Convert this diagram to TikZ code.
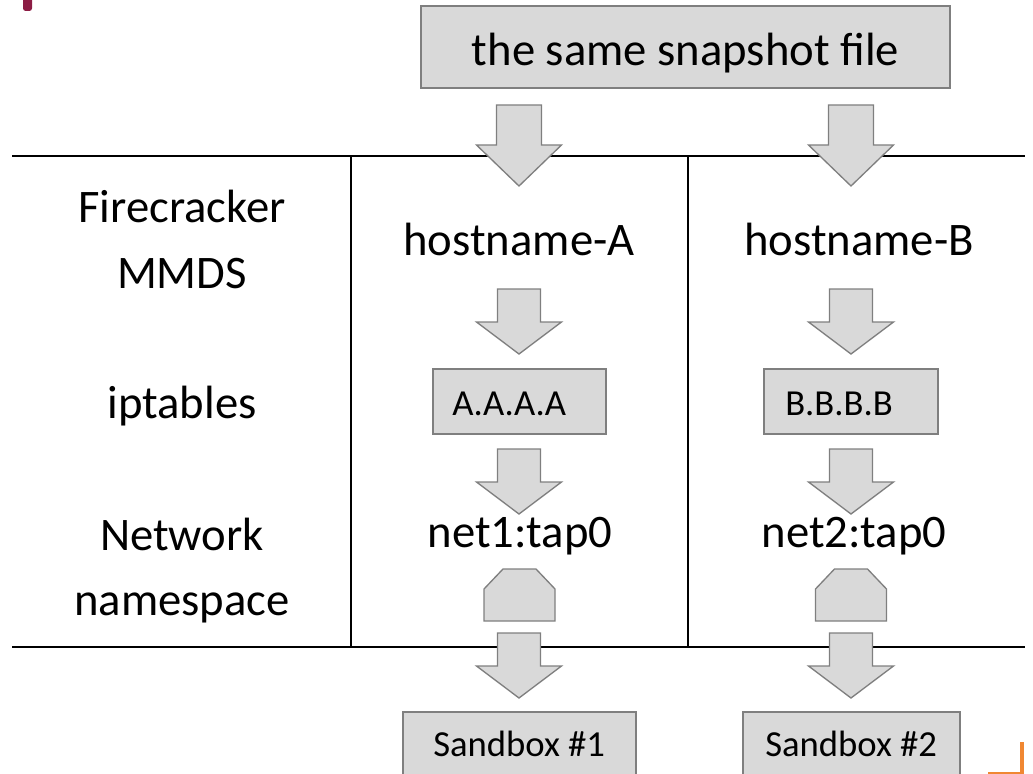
\documentclass[tikz,border=0pt]{standalone}
\usepackage{fontspec}
\setmainfont{Carlito}
\usetikzlibrary{positioning}

\definecolor{boxfill}{RGB}{217,217,217}
\definecolor{boxline}{RGB}{127,127,127}
\definecolor{tabred}{RGB}{140,28,68}
\definecolor{taborange}{RGB}{240,135,50}

\tikzset{
  bigtxt/.style={font=\fontsize{35}{42}\selectfont, inner sep=0pt},
  smalltxt/.style={font=\fontsize{27.5}{33}\selectfont, inner sep=0pt},
  greybox/.style={draw=boxline, fill=boxfill, line width=1.1pt, inner sep=0pt},
  blockarr/.style={draw=boxline, fill=boxfill, line width=1pt, line join=miter},
  rule/.style={black, line width=1.1pt}
}

% centre x, top, shoulder, tip, half shaft
\newcommand{\blockdown}[5]{%
  \draw[blockarr] ({#1-#5},#2) -- ({#1+#5},#2) -- ({#1+#5},#3) -- ({#1+42.5},#3)
    -- (#1,#4) -- ({#1-42.5},#3) -- ({#1-#5},#3) -- cycle;}
% centre x
\newcommand{\tapcap}[1]{%
  \draw[blockarr] ({#1-35.5},621) -- ({#1-35.5},589) -- ({#1-16.5},569)
    -- ({#1+16.5},569) -- ({#1+35.5},589) -- ({#1+35.5},621) -- cycle;}

\begin{document}
\begin{tikzpicture}[x=0.75pt, y=-0.75pt]
  \useasboundingbox (0,0) rectangle (1033,774);
  \clip (0,0) rectangle (1033,774);

  \fill[tabred, rounded corners=2pt] (23,-5) rectangle (32,11);
  \draw[taborange, line width=3pt] (1022,742) -- (1022,780);
  \draw[taborange, line width=1pt] (988,773) -- (1022,773);

  \draw[rule] (12,156) -- (1025,156);
  \draw[rule] (12,647) -- (1025,647);
  \draw[rule] (351,156) -- (351,647);
  \draw[rule] (688,156) -- (688,647);

  \node[greybox, bigtxt, minimum width=396.75pt, minimum height=61.5pt,
        text height=28pt, text depth=0pt] (snap) at (685.5,47) {the same snapshot file};

  \node[bigtxt, anchor=base] (fire) at (182,222) {Firecracker};
  \node[bigtxt, anchor=base] (mmds) at (182,288) {MMDS};
  \node[bigtxt, anchor=base] (ipt) at (182,418) {iptables};
  \node[bigtxt, anchor=base] (netw) at (182,550) {Network};
  \node[bigtxt, anchor=base] (nspace) at (182,615) {namespace};

  \node[bigtxt, anchor=base] (hostA) at (519,255) {hostname-A};
  \node[bigtxt, anchor=base] (hostB) at (859,255) {hostname-B};

  \node[greybox, minimum width=129.75pt, minimum height=48.75pt] (boxA) at (519.5,401.5) {};
  \node[smalltxt, anchor=base west] (ipA) at (452,415) {A.A.A.A};
  \node[greybox, minimum width=130.5pt, minimum height=48.75pt] (boxB) at (851,401.5) {};
  \node[smalltxt, anchor=base west] (ipB) at (785,415) {B.B.B.B};

  \node[bigtxt, anchor=base] (tapA) at (520,547) {net1:tap0};
  \node[bigtxt, anchor=base] (tapB) at (854,547) {net2:tap0};

  \node[greybox, minimum width=174.75pt, minimum height=66pt] (sbA) at (519.5,756) {};
  \node[smalltxt, anchor=base west] (sbtA) at (433,756) {Sandbox \#1};
  \node[greybox, minimum width=162.75pt, minimum height=66pt] (sbB) at (851.5,756) {};
  \node[smalltxt, anchor=base west] (sbtB) at (765,756) {Sandbox \#2};

  \foreach \c in {519,851} {
    \blockdown{\c}{105}{145}{186}{22.5}
    \blockdown{\c}{289}{322}{354}{21.5}
    \blockdown{\c}{449}{482}{514}{21.5}
    \blockdown{\c}{633}{666}{698}{21.5}
  }
  \tapcap{519.5}
  \tapcap{851}
\end{tikzpicture}
\end{document}
